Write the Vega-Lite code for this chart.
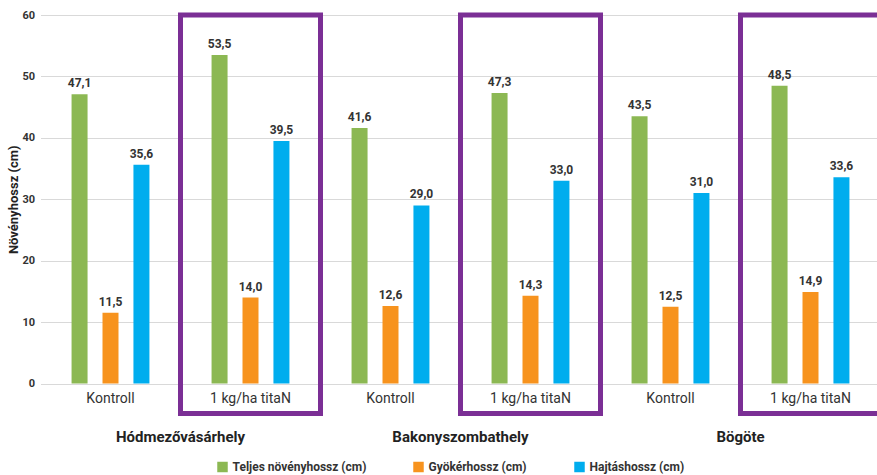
{
  "$schema": "https://vega.github.io/schema/vega-lite/v6.json",
  "autosize": {"type": "none"},
  "padding": {"left": 40.5, "top": 15, "right": 0, "bottom": 91.5},
  "width": 840,
  "height": 368.5,
  "background": "white",
  "config": {
    "font": "Liberation Sans Narrow, Roboto, sans-serif",
    "view": {"stroke": null},
    "locale": {"number": {"decimal": ",", "thousands": ".", "grouping": [3], "currency": ["", " Ft"]}}
  },
  "data": {"values": [
    {"location": "Hódmezővásárhely", "treatment": "Kontroll", "grp": "Hódmezővásárhely|Kontroll", "measure": "Teljes növényhossz (cm)", "value": 47.1},
    {"location": "Hódmezővásárhely", "treatment": "Kontroll", "grp": "Hódmezővásárhely|Kontroll", "measure": "Gyökérhossz (cm)", "value": 11.5},
    {"location": "Hódmezővásárhely", "treatment": "Kontroll", "grp": "Hódmezővásárhely|Kontroll", "measure": "Hajtáshossz (cm)", "value": 35.6},
    {"location": "Hódmezővásárhely", "treatment": "1 kg/ha titaN", "grp": "Hódmezővásárhely|1 kg/ha titaN", "measure": "Teljes növényhossz (cm)", "value": 53.5},
    {"location": "Hódmezővásárhely", "treatment": "1 kg/ha titaN", "grp": "Hódmezővásárhely|1 kg/ha titaN", "measure": "Gyökérhossz (cm)", "value": 14.0},
    {"location": "Hódmezővásárhely", "treatment": "1 kg/ha titaN", "grp": "Hódmezővásárhely|1 kg/ha titaN", "measure": "Hajtáshossz (cm)", "value": 39.5},
    {"location": "Bakonyszombathely", "treatment": "Kontroll", "grp": "Bakonyszombathely|Kontroll", "measure": "Teljes növényhossz (cm)", "value": 41.6},
    {"location": "Bakonyszombathely", "treatment": "Kontroll", "grp": "Bakonyszombathely|Kontroll", "measure": "Gyökérhossz (cm)", "value": 12.6},
    {"location": "Bakonyszombathely", "treatment": "Kontroll", "grp": "Bakonyszombathely|Kontroll", "measure": "Hajtáshossz (cm)", "value": 29.0},
    {"location": "Bakonyszombathely", "treatment": "1 kg/ha titaN", "grp": "Bakonyszombathely|1 kg/ha titaN", "measure": "Teljes növényhossz (cm)", "value": 47.3},
    {"location": "Bakonyszombathely", "treatment": "1 kg/ha titaN", "grp": "Bakonyszombathely|1 kg/ha titaN", "measure": "Gyökérhossz (cm)", "value": 14.3},
    {"location": "Bakonyszombathely", "treatment": "1 kg/ha titaN", "grp": "Bakonyszombathely|1 kg/ha titaN", "measure": "Hajtáshossz (cm)", "value": 33.0},
    {"location": "Bögöte", "treatment": "Kontroll", "grp": "Bögöte|Kontroll", "measure": "Teljes növényhossz (cm)", "value": 43.5},
    {"location": "Bögöte", "treatment": "Kontroll", "grp": "Bögöte|Kontroll", "measure": "Gyökérhossz (cm)", "value": 12.5},
    {"location": "Bögöte", "treatment": "Kontroll", "grp": "Bögöte|Kontroll", "measure": "Hajtáshossz (cm)", "value": 31.0},
    {"location": "Bögöte", "treatment": "1 kg/ha titaN", "grp": "Bögöte|1 kg/ha titaN", "measure": "Teljes növényhossz (cm)", "value": 48.5},
    {"location": "Bögöte", "treatment": "1 kg/ha titaN", "grp": "Bögöte|1 kg/ha titaN", "measure": "Gyökérhossz (cm)", "value": 14.9},
    {"location": "Bögöte", "treatment": "1 kg/ha titaN", "grp": "Bögöte|1 kg/ha titaN", "measure": "Hajtáshossz (cm)", "value": 33.6}
  ]},
  "encoding": {
    "x": {
      "field": "grp", "type": "nominal",
      "sort": ["Hódmezővásárhely|Kontroll", "Hódmezővásárhely|1 kg/ha titaN", "Bakonyszombathely|Kontroll", "Bakonyszombathely|1 kg/ha titaN", "Bögöte|Kontroll", "Bögöte|1 kg/ha titaN"],
      "scale": {"paddingInner": 0, "paddingOuter": 0},
      "axis": {"title": null, "labelAngle": 0, "domain": false, "ticks": false, "labelPadding": 8, "labelFontSize": 14, "labelColor": "#333333", "labelExpr": "split(datum.label, '|')[1]"}
    }
  },
  "layer": [
    {
      "mark": {"type": "bar", "width": 16},
      "encoding": {
        "xOffset": {"field": "measure", "type": "nominal", "sort": ["Teljes növényhossz (cm)", "Gyökérhossz (cm)", "Hajtáshossz (cm)"], "scale": {"paddingInner": 0.475, "paddingOuter": 1.03}},
        "y": {
          "field": "value", "type": "quantitative",
          "scale": {"domain": [0, 60], "nice": false},
          "axis": {"title": "Növényhossz (cm)", "titleFontSize": 13, "titleFontWeight": "bold", "titleColor": "#222222", "titleX": -20, "values": [0, 10, 20, 30, 40, 50, 60], "domain": false, "ticks": false, "labelPadding": 6, "labelFontSize": 11, "labelFontWeight": "bold", "labelColor": "#333333", "gridColor": "#d9d9d9", "gridWidth": 1.2}
        },
        "color": {
          "field": "measure", "type": "nominal",
          "sort": ["Teljes növényhossz (cm)", "Gyökérhossz (cm)", "Hajtáshossz (cm)"],
          "scale": {"range": ["#8cb853", "#f7931e", "#00adee"]},
          "legend": {"title": null, "orient": "none", "legendX": 176, "legendY": 446, "direction": "horizontal", "symbolType": "square", "symbolSize": 110, "symbolStrokeWidth": 0, "labelFontSize": 12, "labelFontWeight": "bold", "labelColor": "#333333", "columnPadding": 46, "labelOffset": 4}
        }
      }
    },
    {
      "mark": {"type": "text", "baseline": "bottom", "dy": -4, "fontSize": 12, "fontWeight": "bold", "color": "#333333"},
      "encoding": {
        "xOffset": {"field": "measure", "type": "nominal", "sort": ["Teljes növényhossz (cm)", "Gyökérhossz (cm)", "Hajtáshossz (cm)"], "scale": {"paddingInner": 0.475, "paddingOuter": 1.03}},
        "y": {"field": "value", "type": "quantitative"},
        "text": {"field": "value", "type": "quantitative", "format": ".1f"}
      }
    },
    {
      "transform": [{"filter": "datum.treatment === '1 kg/ha titaN' && datum.measure === 'Gyökérhossz (cm)'"}],
      "mark": {"type": "rect", "fill": null, "stroke": "#7b2f95", "strokeWidth": 5},
      "encoding": {
        "y": {"datum": 60},
        "y2": {"datum": -4.9}
      }
    },
    {
      "transform": [{"filter": "datum.treatment === '1 kg/ha titaN' && datum.measure === 'Gyökérhossz (cm)'"}],
      "mark": {"type": "text", "baseline": "middle", "align": "center", "fontSize": 15, "fontWeight": "bold", "color": "#222222"},
      "encoding": {
        "x": {"field": "grp", "type": "nominal", "bandPosition": 0, "sort": ["Hódmezővásárhely|Kontroll", "Hódmezővásárhely|1 kg/ha titaN", "Bakonyszombathely|Kontroll", "Bakonyszombathely|1 kg/ha titaN", "Bögöte|Kontroll", "Bögöte|1 kg/ha titaN"]},
        "y": {"datum": -8.7},
        "text": {"field": "location"}
      }
    }
  ]
}
